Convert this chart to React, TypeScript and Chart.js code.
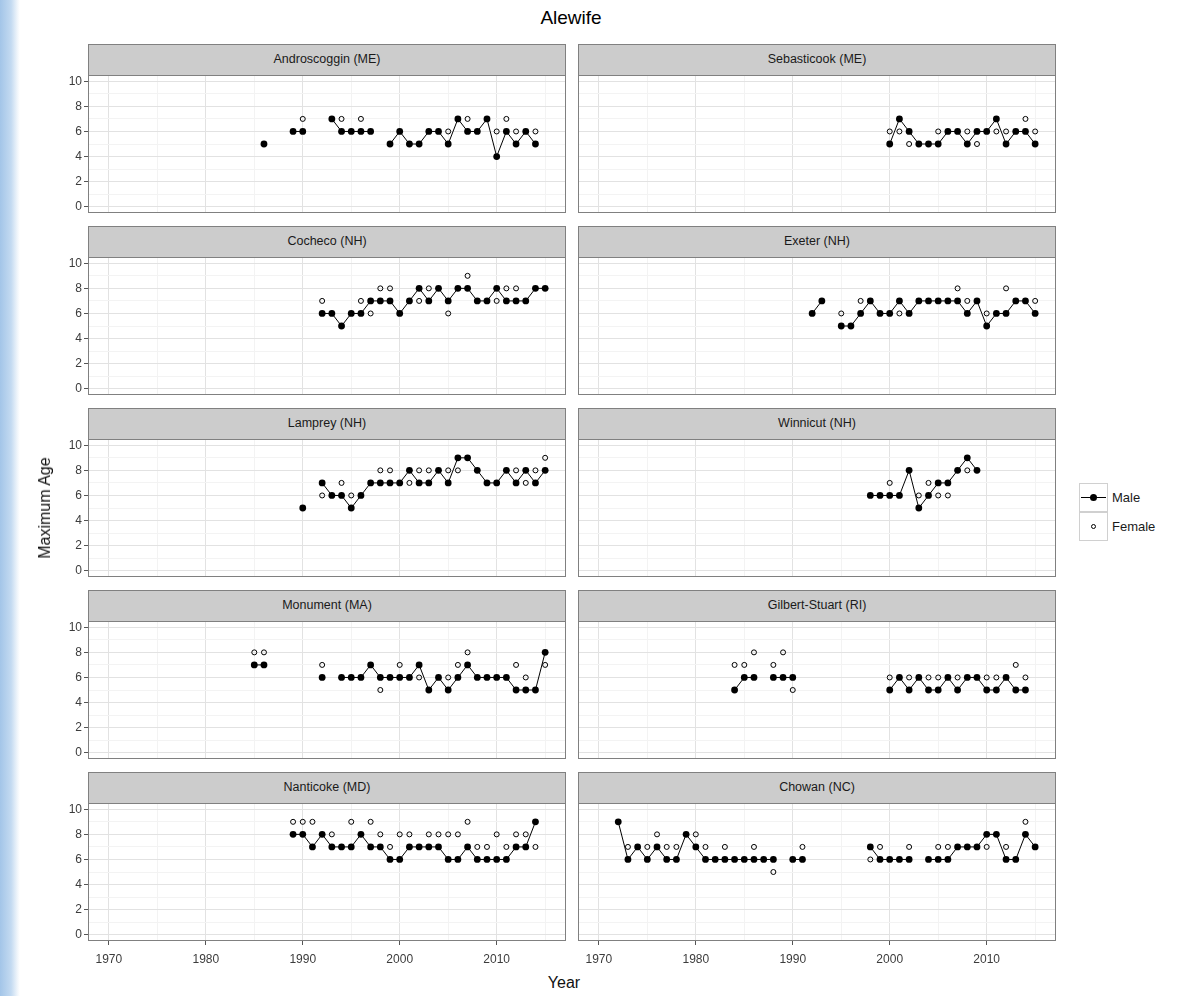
import React, { useEffect, useRef } from "react";
import { Chart, registerables } from "chart.js";

Chart.register(...registerables);

// ---------- Data ----------
const X_MAJOR = [1970, 1980, 1990, 2000, 2010];
const X_MINOR = [1975, 1985, 1995, 2005, 2015];
const Y_MAJOR = [0, 2, 4, 6, 8, 10];
const Y_MINOR = [1, 3, 5, 7, 9];
const SERIES_NAMES = ["Male", "Female"];

const ANDRO_START = 1986;
const ANDRO_MALE = [5, null, null, 6, 6, null, null, 7, 6, 6, 6, 6, null, 5, 6, 5, 5, 6, 6, 5, 7, 6, 6, 7, 4, 6, 5, 6, 5];
const ANDRO_FEMALE = [null, null, null, null, 7, null, null, null, 7, null, 7, null, null, null, null, null, null, null, null, 6, null, 7, null, null, 6, 7, 6, null, 6];

const SEBAS_START = 2000;
const SEBAS_MALE = [5, 7, 6, 5, 5, 5, 6, 6, 5, 6, 6, 7, 5, 6, 6, 5];
const SEBAS_FEMALE = [6, 6, 5, null, null, 6, null, null, 6, 5, null, 6, 6, null, 7, 6];

const COCHECO_START = 1992;
const COCHECO_MALE = [6, 6, 5, 6, 6, 7, 7, 7, 6, 7, 8, 7, 8, 7, 8, 8, 7, 7, 8, 7, 7, 7, 8, 8];
const COCHECO_FEMALE = [7, null, null, null, 7, 6, 8, 8, null, null, 7, 8, null, 6, null, 9, null, null, 7, 8, 8, null, null, null];

const EXETER_START = 1992;
const EXETER_MALE = [6, 7, null, 5, 5, 6, 7, 6, 6, 7, 6, 7, 7, 7, 7, 7, 6, 7, 5, 6, 6, 7, 7, 6];
const EXETER_FEMALE = [null, null, null, 6, null, 7, null, null, null, 6, null, null, null, null, null, 8, 7, null, 6, null, 8, null, null, 7];

const LAMPREY_START = 1990;
const LAMPREY_MALE = [5, null, 7, 6, 6, 5, 6, 7, 7, 7, 7, 8, 7, 7, 8, 7, 9, 9, 8, 7, 7, 8, 7, 8, 7, 8];
const LAMPREY_FEMALE = [null, null, 6, null, 7, 6, null, null, 8, 8, null, 7, 8, 8, null, 8, 8, null, null, null, null, null, 8, 7, 8, 9];

const WINNICUT_START = 1998;
const WINNICUT_MALE = [6, 6, 6, 6, 8, 5, 6, 7, 7, 8, 9, 8];
const WINNICUT_FEMALE = [null, null, 7, null, null, 6, 7, 6, 6, null, 8, null];

const MONUMENT_START = 1985;
const MONUMENT_MALE = [7, 7, null, null, null, null, null, 6, null, 6, 6, 6, 7, 6, 6, 6, 6, 7, 5, 6, 5, 6, 7, 6, 6, 6, 6, 5, 5, 5, 8];
const MONUMENT_FEMALE = [8, 8, null, null, null, null, null, 7, null, null, null, null, null, 5, null, 7, null, 6, null, null, 6, 7, 8, null, null, null, null, 7, 6, null, 7];

const GILBERT_START = 1984;
const GILBERT_MALE = [5, 6, 6, null, 6, 6, 6, null, null, null, null, null, null, null, null, null, 5, 6, 5, 6, 5, 5, 6, 5, 6, 6, 5, 5, 6, 5, 5];
const GILBERT_FEMALE = [7, 7, 8, null, 7, 8, 5, null, null, null, null, null, null, null, null, null, 6, null, 6, null, 6, 6, null, 6, null, null, 6, 6, null, 7, 6];

const NANTI_START = 1989;
const NANTI_MALE = [8, 8, 7, 8, 7, 7, 7, 8, 7, 7, 6, 6, 7, 7, 7, 7, 6, 6, 7, 6, 6, 6, 6, 7, 7, 9];
const NANTI_FEMALE = [9, 9, 9, null, 8, null, 9, null, 9, 8, 7, 8, 8, null, 8, 8, 8, 8, 9, 7, 7, 8, 7, 8, 8, 7];

const CHOWAN_START = 1972;
const CHOWAN_MALE = [9, 6, 7, 6, 7, 6, 6, 8, 7, 6, 6, 6, 6, 6, 6, 6, 6, null, 6, 6, null, null, null, null, null, null, 7, 6, 6, 6, 6, null, 6, 6, 6, 7, 7, 7, 8, 8, 6, 6, 8, 7];
const CHOWAN_FEMALE = [null, 7, null, 7, 8, 7, 7, null, 8, 7, null, 7, null, null, 7, null, 5, null, null, 7, null, null, null, null, null, null, 6, 7, null, null, 7, null, null, 7, 7, null, null, null, 7, null, 7, null, 9, null];

const PANELS = [
  { name: "Androscoggin (ME)", start: ANDRO_START, male: ANDRO_MALE, female: ANDRO_FEMALE },
  { name: "Sebasticook (ME)", start: SEBAS_START, male: SEBAS_MALE, female: SEBAS_FEMALE },
  { name: "Cocheco (NH)", start: COCHECO_START, male: COCHECO_MALE, female: COCHECO_FEMALE },
  { name: "Exeter (NH)", start: EXETER_START, male: EXETER_MALE, female: EXETER_FEMALE },
  { name: "Lamprey (NH)", start: LAMPREY_START, male: LAMPREY_MALE, female: LAMPREY_FEMALE },
  { name: "Winnicut (NH)", start: WINNICUT_START, male: WINNICUT_MALE, female: WINNICUT_FEMALE },
  { name: "Monument (MA)", start: MONUMENT_START, male: MONUMENT_MALE, female: MONUMENT_FEMALE },
  { name: "Gilbert-Stuart (RI)", start: GILBERT_START, male: GILBERT_MALE, female: GILBERT_FEMALE },
  { name: "Nanticoke (MD)", start: NANTI_START, male: NANTI_MALE, female: NANTI_FEMALE },
  { name: "Chowan (NC)", start: CHOWAN_START, male: CHOWAN_MALE, female: CHOWAN_FEMALE },
];

// ---------- Layout / style ----------
const FONT = '"Liberation Sans", Arial, Helvetica, sans-serif';
const X_MIN = 1967.85;
const X_MAX = 2017.15;
const Y_MIN = -0.5;
const Y_MAX = 10.5;
const COL_X = [88, 578];
const PLOT_W = 478;
const PLOT_H = 138;
const ROW_Y0 = 75;
const ROW_STEP = 182;
const STRIP_H = 31;
const Y_AXIS_W = 40;
const X_AXIS_H = 30;
const GRID_MAJOR = "#e2e2e2";
const GRID_MINOR = "#f3f3f3";
const BORDER = "#808080";
const TICK_TEXT = "#3c3c3c";

const borderPlugin = {
  id: "panelBorder",
  afterDraw(chart: any) {
    const { ctx, chartArea } = chart;
    ctx.save();
    ctx.strokeStyle = BORDER;
    ctx.lineWidth = 1;
    ctx.strokeRect(
      Math.round(chartArea.left) + 0.5,
      Math.round(chartArea.top) + 0.5,
      Math.round(chartArea.right - chartArea.left) - 1,
      Math.round(chartArea.bottom - chartArea.top) - 1
    );
    ctx.restore();
  },
};

function Panel({ p, index }: { p: any; index: number }) {
  const ref = useRef<HTMLCanvasElement>(null);
  const col = index % 2;
  const row = Math.floor(index / 2);
  const isLeft = col === 0;
  const isBottom = row === 4;
  const axW = isLeft ? Y_AXIS_W : 0;
  const axH = isBottom ? X_AXIS_H : 0;
  const left = COL_X[col] - axW;
  const top = ROW_Y0 + ROW_STEP * row;
  const w = PLOT_W + axW;
  const h = PLOT_H + axH;

  useEffect(() => {
    if (!ref.current) return;
    const toPts = (arr: (number | null)[]) => arr.map((v, i) => ({ x: p.start + i, y: v }));
    const fitFix = (size: number, horizontal: boolean) => (s: any) => {
      if (horizontal) s.height = size;
      else s.width = size;
      s.paddingLeft = 0;
      s.paddingRight = 0;
      s.paddingTop = 0;
      s.paddingBottom = 0;
    };
    const chart = new Chart(ref.current, {
      type: "line",
      data: {
        datasets: [
          {
            label: SERIES_NAMES[1],
            data: toPts(p.female),
            showLine: false,
            pointRadius: 2.5,
            pointBorderWidth: 1,
            pointBorderColor: "#000",
            pointBackgroundColor: "rgba(0,0,0,0)",
            borderColor: "#000",
          },
          {
            label: SERIES_NAMES[0],
            data: toPts(p.male),
            showLine: true,
            spanGaps: false,
            tension: 0,
            borderColor: "#000",
            borderWidth: 1,
            pointRadius: 3.4,
            pointBorderWidth: 0,
            pointBackgroundColor: "#000",
            pointBorderColor: "#000",
          },
        ],
      },
      options: {
        responsive: false,
        animation: false,
        devicePixelRatio: 1,
        events: [],
        layout: { padding: 0, autoPadding: false },
        plugins: {
          legend: { display: false },
          tooltip: { enabled: false },
          title: { display: false },
        },
        scales: {
          x: {
            type: "linear",
            position: "bottom",
            min: X_MIN,
            max: X_MAX,
            afterBuildTicks: (s: any) => {
              s.ticks = [...X_MAJOR, ...X_MINOR].sort((a, b) => a - b).map((v) => ({ value: v }));
            },
            afterFit: fitFix(axH, true),
            border: { display: false },
            grid: {
              color: (c: any) => (X_MAJOR.includes(c.tick?.value) ? GRID_MAJOR : GRID_MINOR),
              lineWidth: 1,
              drawTicks: isBottom,
              tickLength: 4,
              tickColor: (c: any) => (X_MAJOR.includes(c.tick?.value) ? "#555" : "rgba(0,0,0,0)"),
            },
            ticks: {
              display: isBottom,
              autoSkip: false,
              maxRotation: 0,
              padding: 7,
              color: TICK_TEXT,
              font: { family: FONT, size: 12 },
              callback: (v: any) => (X_MAJOR.includes(v) ? String(v) : ""),
            },
          },
          y: {
            type: "linear",
            position: "left",
            min: Y_MIN,
            max: Y_MAX,
            afterBuildTicks: (s: any) => {
              s.ticks = [...Y_MAJOR, ...Y_MINOR].sort((a, b) => a - b).map((v) => ({ value: v }));
            },
            afterFit: fitFix(axW, false),
            border: { display: false },
            grid: {
              color: (c: any) => (Y_MAJOR.includes(c.tick?.value) ? GRID_MAJOR : GRID_MINOR),
              lineWidth: 1,
              drawTicks: isLeft,
              tickLength: 4,
              tickColor: (c: any) => (Y_MAJOR.includes(c.tick?.value) ? "#555" : "rgba(0,0,0,0)"),
            },
            ticks: {
              display: isLeft,
              autoSkip: false,
              padding: 2,
              color: TICK_TEXT,
              font: { family: FONT, size: 12 },
              callback: (v: any) => (Y_MAJOR.includes(v) ? String(v) : ""),
            },
          },
        },
      },
      plugins: [borderPlugin],
    } as any);
    return () => chart.destroy();
  }, []);

  return (
    <canvas
      ref={ref}
      width={w}
      height={h}
      style={{ position: "absolute", left, top, width: w, height: h }}
    />
  );
}

function Strip({ name, index }: { name: string; index: number }) {
  const col = index % 2;
  const row = Math.floor(index / 2);
  return (
    <div
      style={{
        position: "absolute",
        left: COL_X[col],
        top: ROW_Y0 + ROW_STEP * row - STRIP_H,
        width: PLOT_W,
        height: STRIP_H,
        boxSizing: "border-box",
        background: "#cccccc",
        border: `1px solid ${BORDER}`,
        borderBottom: "none",
        color: "#1a1a1a",
        fontFamily: FONT,
        fontSize: 12.5,
        lineHeight: `${STRIP_H - 2}px`,
        textAlign: "center",
      }}
    >
      {name}
    </div>
  );
}

function Legend() {
  const keyBox: React.CSSProperties = {
    position: "absolute",
    left: 1079,
    width: 29,
    height: 29,
    boxSizing: "border-box",
    border: "1px solid #d0d0d0",
    background: "#fff",
  };
  const label: React.CSSProperties = {
    position: "absolute",
    left: 1112,
    fontFamily: FONT,
    fontSize: 13,
    color: "#1a1a1a",
    lineHeight: "29px",
    height: 29,
  };
  return (
    <>
      <div style={{ ...keyBox, top: 483 }}>
        <div style={{ position: "absolute", left: 1, right: 1, top: 13, height: 1, background: "#000" }} />
        <div
          style={{
            position: "absolute",
            left: 10,
            top: 10,
            width: 7,
            height: 7,
            borderRadius: "50%",
            background: "#000",
          }}
        />
      </div>
      <div style={{ ...label, top: 483 }}>{SERIES_NAMES[0]}</div>
      <div style={{ ...keyBox, top: 512 }}>
        <div
          style={{
            position: "absolute",
            left: 11,
            top: 11,
            width: 5,
            height: 5,
            boxSizing: "border-box",
            borderRadius: "50%",
            border: "1px solid #000",
          }}
        />
      </div>
      <div style={{ ...label, top: 512 }}>{SERIES_NAMES[1]}</div>
    </>
  );
}

export default function App() {
  return (
    <div
      style={{
        position: "absolute",
        left: 0,
        top: 0,
        width: 1178,
        height: 996,
        background: "#fff",
        overflow: "hidden",
        fontFamily: FONT,
      }}
    >
      <div
        style={{
          position: "absolute",
          left: 0,
          top: 0,
          width: 20,
          height: 996,
          background: "linear-gradient(to right, #a3c5e8 0%, #c3daf1 55%, #f4f8fc 90%, #ffffff 100%)",
        }}
      />
      <div
        style={{
          position: "absolute",
          left: 0,
          width: 1142,
          top: 5,
          textAlign: "center",
          fontSize: 19,
          color: "#000",
          lineHeight: "26px",
        }}
      >
        Alewife
      </div>
      {PANELS.map((p, i) => (
        <React.Fragment key={p.name}>
          <Strip name={p.name} index={i} />
          <Panel p={p} index={i} />
        </React.Fragment>
      ))}
      <div
        style={{
          position: "absolute",
          left: 45,
          top: 508,
          transform: "translate(-50%, -50%) rotate(-90deg)",
          whiteSpace: "nowrap",
          fontSize: 16,
          fontWeight: 400,
          color: "#111",
        }}
      >
        Maximum Age
      </div>
      <div
        style={{
          position: "absolute",
          left: 564,
          top: 983,
          transform: "translate(-50%, -50%)",
          fontSize: 16,
          color: "#111",
        }}
      >
        Year
      </div>
      <Legend />
    </div>
  );
}
